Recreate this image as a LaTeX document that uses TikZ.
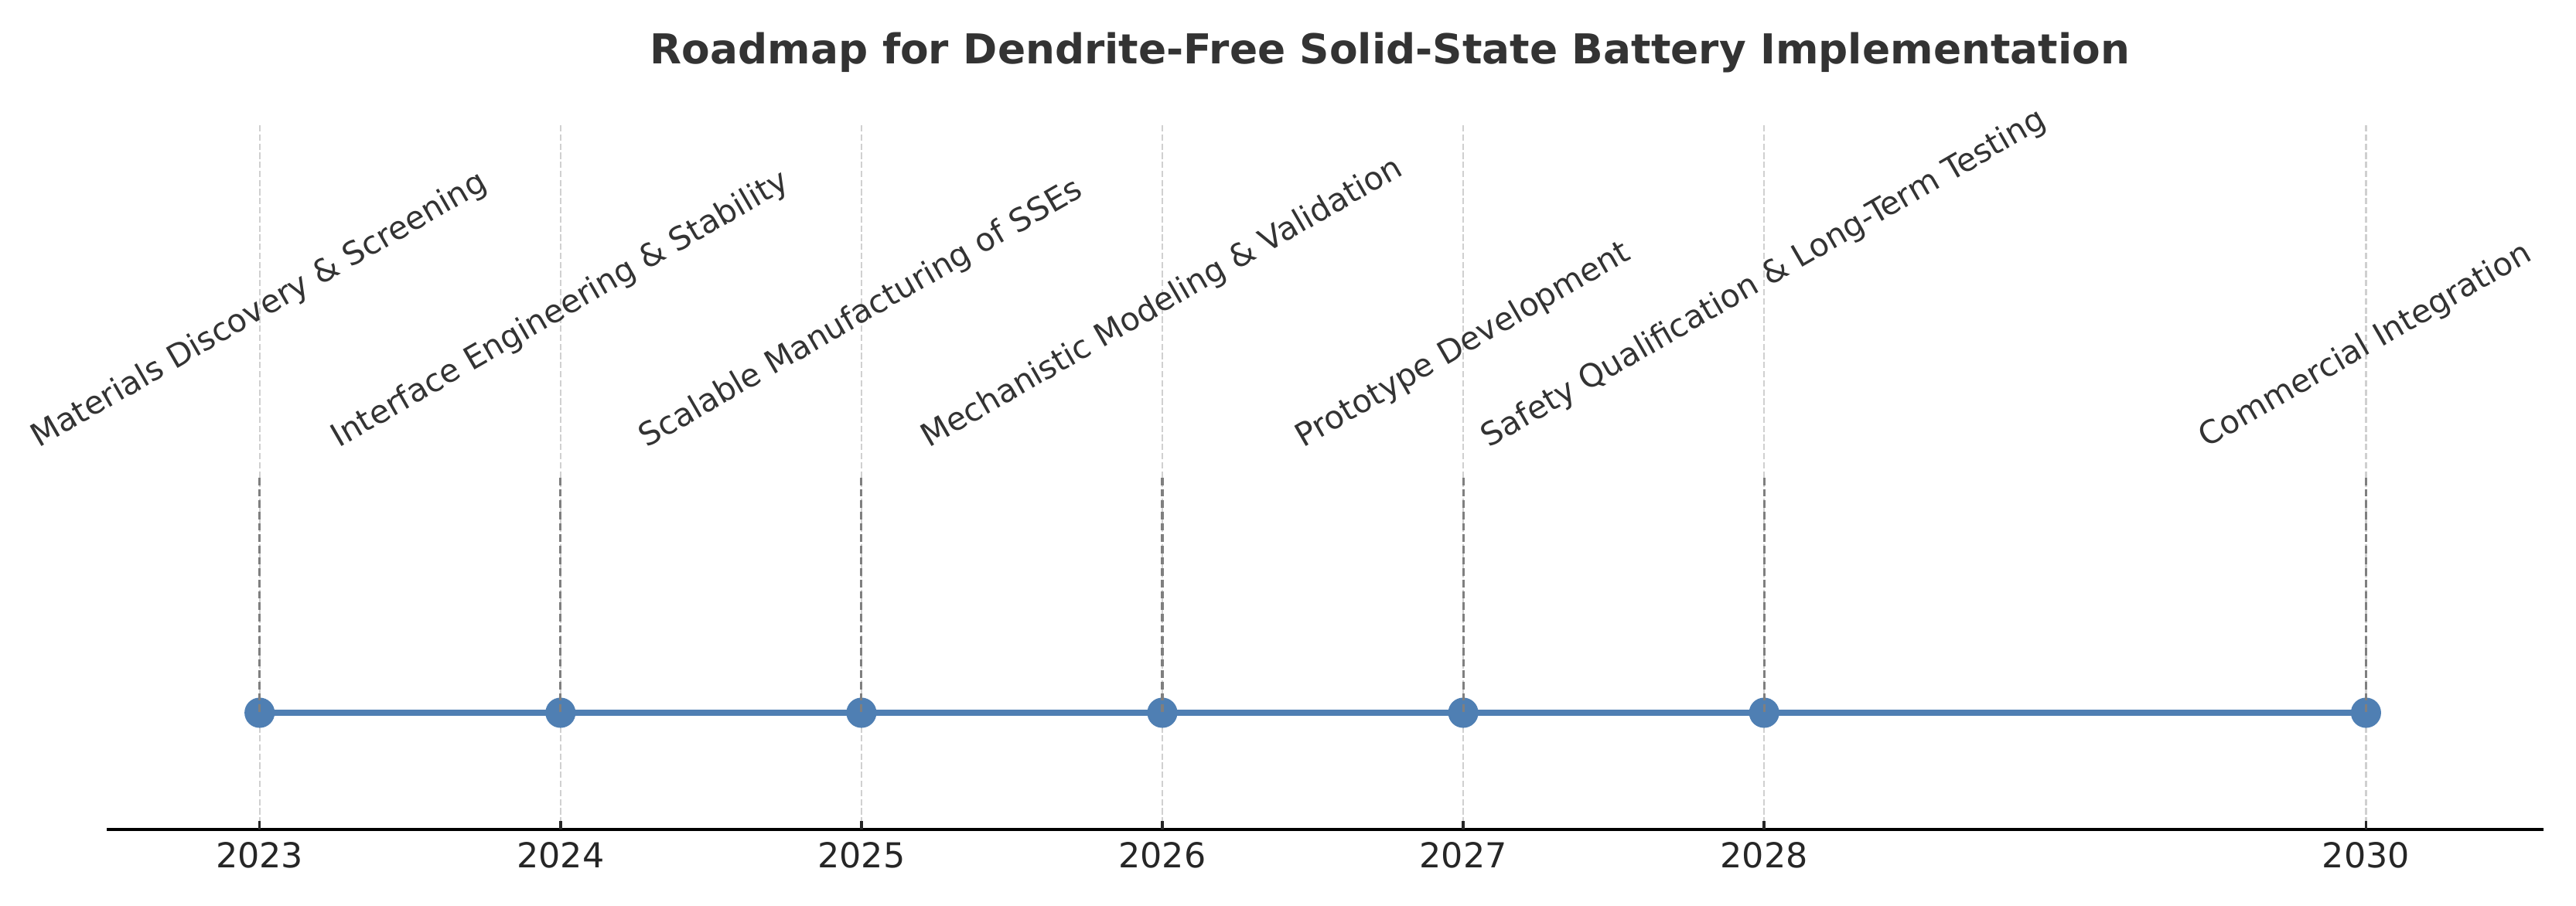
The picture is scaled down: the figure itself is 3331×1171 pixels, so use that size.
\documentclass[tikz,border=0pt]{standalone}
\usepackage{fontspec}
\setmainfont{DejaVu Sans}
\definecolor{tlblue}{HTML}{4F7FB3}
\definecolor{gridgray}{HTML}{D0D0D0}
\definecolor{stemgray}{HTML}{7F7F7F}
\definecolor{lbltext}{HTML}{333333}
\definecolor{yeartext}{HTML}{262626}
\newcommand\lblfont{\fontsize{10}{12}\selectfont}
\newcommand\stgfont{\fontsize{9.3}{11}\selectfont}
\newcommand\ttlfont{\fontsize{12}{14}\selectfont\bfseries}
\newsavebox\lblbox
\newlength\lblw
\newlength\lblh
% measure a stage label: rotated bbox centred on its year, bottom at y=587px
\newcommand\measurestage[2]{%
  \sbox\lblbox{\normalfont\stgfont #2}%
  \setlength\lblw{\wd\lblbox}%
  \setlength\lblh{\ht\lblbox}\addtolength\lblh{\dp\lblbox}%
  \pgfmathsetmacro\tmpv{587-(0.25*\lblw+0.433*\lblh)/0.225}%
  \xdef#1{\tmpv}}
\begin{document}
\measurestage{\pyA}{Materials Discovery \& Screening}%
\measurestage{\pyB}{Interface Engineering \& Stability}%
\measurestage{\pyC}{Scalable Manufacturing of SSEs}%
\measurestage{\pyD}{Mechanistic Modeling \& Validation}%
\measurestage{\pyE}{Prototype Development}%
\measurestage{\pyF}{Safety Qualification \& Long-Term Testing}%
\measurestage{\pyG}{Commercial Integration}%
\begin{tikzpicture}[x=0.225pt,y=-0.225pt,
  gridln/.style={draw=gridgray, line width=0.5pt, dash pattern=on 1.85pt off 0.8pt},
  stemln/.style={draw=stemgray, line width=0.7pt, dash pattern=on 2.2pt off 1.1pt},
  axisln/.style={draw=black, line width=0.8pt},
  tickln/.style={draw=black!85, line width=0.8pt},
  timeln/.style={draw=tlblue, line width=1.7pt},
  milestone/.style={circle, fill=tlblue, minimum size=8.8pt, inner sep=0pt},
  yearlbl/.style={text=yeartext, font=\lblfont, anchor=base},
  stagelbl/.style={text=lbltext, font=\stgfont, rotate=30, inner sep=0pt, anchor=center},
  titlelbl/.style={text=lbltext, font=\ttlfont, anchor=base}]
\useasboundingbox (0,0) rectangle (3331,1171);
\node[titlelbl] (title) at (1797.5,82) {Roadmap for Dendrite-Free Solid-State Battery Implementation};
% grid lines
\foreach \x/\yr in {335.7/2023,724.8/2024,1113.9/2025,1503.0/2026,1892.1/2027,2281.2/2028,3059.4/2030}{
  \coordinate (g\yr) at (\x,162);
  \coordinate (b\yr) at (\x,1073);
  \draw[gridln] (g\yr) -- (b\yr);
}
% axis
\coordinate (axL) at (138,1073);
\coordinate (axR) at (3289,1073);
\draw[axisln] (axL) -- (axR);
\foreach \x/\yr in {335.7/2023,724.8/2024,1113.9/2025,1503.0/2026,1892.1/2027,2281.2/2028,3059.4/2030}{
  \coordinate (t\yr) at (\x,1062);
  \draw[tickln] (b\yr) -- (t\yr);
  \node[yearlbl] (y\yr) at (\x,1122) {\yr};
  \coordinate (c\yr) at (\x,922);
  \coordinate (s\yr) at (\x,618);
}
% timeline
\draw[timeln] (c2023) -- (c2024) -- (c2025) -- (c2026) -- (c2027) -- (c2028) -- (c2030);
\foreach \yr in {2023,2024,2025,2026,2027,2028,2030}{
  \node[milestone] (m\yr) at (c\yr) {};
  \draw[stemln] (s\yr) -- (m\yr.center);
}
% stage labels
\node[stagelbl] (l2023) at (335.7,\pyA) {Materials Discovery \& Screening};
\node[stagelbl] (l2024) at (724.8,\pyB) {Interface Engineering \& Stability};
\node[stagelbl] (l2025) at (1113.9,\pyC) {Scalable Manufacturing of SSEs};
\node[stagelbl] (l2026) at (1503.0,\pyD) {Mechanistic Modeling \& Validation};
\node[stagelbl] (l2027) at (1892.1,\pyE) {Prototype Development};
\node[stagelbl] (l2028) at (2281.2,\pyF) {Safety Qualification \& Long-Term Testing};
\node[stagelbl] (l2030) at (3059.4,\pyG) {Commercial Integration};
\end{tikzpicture}
\end{document}
